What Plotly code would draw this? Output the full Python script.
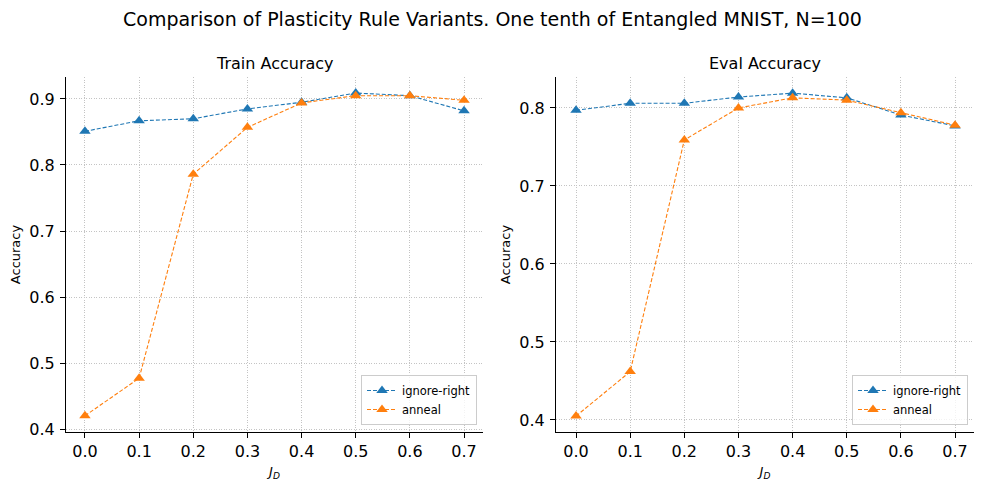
import plotly.graph_objects as go

jd = [0.0, 0.1, 0.2, 0.3, 0.4, 0.5, 0.6, 0.7]
train_ignore_right = [0.851, 0.867, 0.870, 0.885, 0.895, 0.909, 0.905, 0.882]
train_anneal = [0.420, 0.477, 0.786, 0.857, 0.894, 0.905, 0.905, 0.898]
eval_ignore_right = [0.797, 0.806, 0.806, 0.814, 0.819, 0.813, 0.791, 0.777]
eval_anneal = [0.405, 0.462, 0.759, 0.800, 0.813, 0.810, 0.794, 0.778]

series_names = ["ignore-right", "anneal"]
colors = ["#1f77b4", "#ff7f0e"]
suptitle = "Comparison of Plasticity Rule Variants. One tenth of Entangled MNIST, N=100"
panel_titles = ["Train Accuracy", "Eval Accuracy"]
tick_vals_x = [0.0, 0.1, 0.2, 0.3, 0.4, 0.5, 0.6, 0.7]

FONT = "DejaVu Sans"
W, H = 983, 492
OFF = 8  # page body margin

fig = go.Figure()

panels = [
    (train_ignore_right, train_anneal, "x", "y", "legend"),
    (eval_ignore_right, eval_anneal, "x2", "y2", "legend2"),
]
for a, b, xa, ya, lg in panels:
    for vals, name, col in zip([a, b], series_names, colors):
        fig.add_trace(go.Scatter(
            x=jd, y=vals, name=name, xaxis=xa, yaxis=ya, legend=lg,
            mode="lines+markers",
            line=dict(color=col, width=1.1, dash="4px,2px"),
            marker=dict(symbol="triangle-up", size=10, color=col),
        ))

def px_x(p):
    return (p - OFF) / W

def px_y(p):
    return 1 - (p - OFF) / H

axis_common = dict(
    showline=True, linecolor="black", linewidth=1, mirror=False,
    ticks="outside", ticklen=5, tickcolor="black", tickwidth=1,
    showgrid=True, gridcolor="#c4c4c4", gridwidth=0.6, griddash="1px,1.5px",
    zeroline=False, tickfont=dict(family=FONT, size=16, color="black"),
    tickformat=".1f", automargin=False,
)

xlabel = "<i>J</i><sub><i>D</i></sub>"

fig.update_layout(
    width=W, height=H,
    margin=dict(l=0, r=0, t=0, b=0),
    paper_bgcolor="white", plot_bgcolor="white",
    font=dict(family=FONT, color="black"),
    xaxis=dict(axis_common, domain=[px_x(66), px_x(483)], range=[-0.035, 0.735],
               tickvals=tick_vals_x, anchor="y", ticklabelstandoff=0,
               title=dict(text=xlabel, font=dict(size=13), standoff=6)),
    yaxis=dict(axis_common, domain=[px_y(432), px_y(77)], range=[0.3955, 0.9333],
               dtick=0.1, anchor="x", ticklabelstandoff=2,
               title=dict(text="Accuracy", font=dict(size=13), standoff=10)),
    xaxis2=dict(axis_common, domain=[px_x(556), px_x(974)], range=[-0.037, 0.735],
                tickvals=tick_vals_x, anchor="y2", ticklabelstandoff=0,
                title=dict(text=xlabel, font=dict(size=13), standoff=6)),
    yaxis2=dict(axis_common, domain=[px_y(432), px_y(77)], range=[0.3846, 0.8397],
                dtick=0.1, anchor="x2", ticklabelstandoff=2,
                title=dict(text="Accuracy", font=dict(size=13), standoff=5)),
    legend=dict(x=px_x(477), y=px_y(425), xanchor="right", yanchor="bottom",
                bgcolor="rgba(255,255,255,0.8)", bordercolor="#cccccc", borderwidth=1,
                font=dict(family=FONT, size=11.5), tracegroupgap=0, itemwidth=30),
    legend2=dict(x=px_x(968), y=px_y(425), xanchor="right", yanchor="bottom",
                 bgcolor="rgba(255,255,255,0.8)", bordercolor="#cccccc", borderwidth=1,
                 font=dict(family=FONT, size=11.5), tracegroupgap=0, itemwidth=30),
    annotations=[
        dict(text=suptitle, x=px_x(492), y=px_y(19), xref="paper", yref="paper",
             showarrow=False, xanchor="center", yanchor="middle",
             font=dict(family=FONT, size=19, color="black")),
        dict(text=panel_titles[0], x=(px_x(66) + px_x(483)) / 2, y=px_y(63),
             xref="paper", yref="paper", showarrow=False, xanchor="center", yanchor="middle",
             font=dict(family=FONT, size=16, color="black")),
        dict(text=panel_titles[1], x=(px_x(556) + px_x(974)) / 2, y=px_y(63),
             xref="paper", yref="paper", showarrow=False, xanchor="center", yanchor="middle",
             font=dict(family=FONT, size=16, color="black")),
    ],
)

fig.write_html("out.html")
